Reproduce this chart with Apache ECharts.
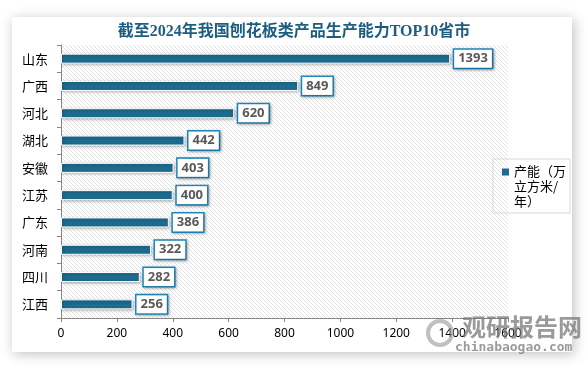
<!DOCTYPE html>
<html><head><meta charset="utf-8">
<script src="https://cdn.jsdelivr.net/npm/echarts@6/dist/echarts.min.js"></script>
<style>html,body{margin:0;padding:0;background:#fff;}#c{width:588px;height:367px;}</style>
</head><body><div id="c"></div>
<script>
const categories = ['山东','广西','河北','湖北','安徽','江苏','广东','河南','四川','江西'];
const capacity = [1393, 849, 620, 442, 403, 400, 386, 322, 282, 256];
const seriesName = '产能（万立方米/年）';
const titleText = '截至2024年我国刨花板类产品生产能力TOP10省市';

// hatch pattern
const S = 4;
const pc = document.createElement('canvas');
pc.width = S; pc.height = S;
const pctx = pc.getContext('2d');
pctx.fillStyle = '#ffffff'; pctx.fillRect(0,0,S,S);
pctx.strokeStyle = '#dedede'; pctx.lineWidth = 0.9;
pctx.beginPath();
pctx.moveTo(-1,-1); pctx.lineTo(S+1,S+1);
pctx.moveTo(-1-S,-1); pctx.lineTo(1,S+1);
pctx.moveTo(S-1,-1); pctx.lineTo(2*S+1,S+1);
pctx.stroke();

const chart = echarts.init(document.getElementById('c'), null, {renderer:'canvas'});
chart.setOption({
  animation: false,
  backgroundColor: '#ffffff',
  graphic: [
    {type:'rect', z:-10, shape:{x:12,y:17,width:560,height:335},
     style:{fill:'#fff', shadowBlur:12, shadowColor:'rgba(0,0,0,0.25)', shadowOffsetX:2, shadowOffsetY:2}},
    {type:'text', z:100, left:462, top:315,
     style:{text:'观研报告网', font:'bold 24px "Noto Sans CJK SC"', fill:'rgba(120,120,120,0.75)'}},
    {type:'text', z:100, left:455, top:341,
     style:{text:'chinabaogao.com', font:'bold 13px "DejaVu Sans Mono"', fill:'rgba(120,120,120,0.75)'}},
    {type:'circle', z:100, shape:{cx:440,cy:333,r:12},
     style:{fill:'none', stroke:'rgba(150,150,150,0.6)', lineWidth:4}}
  ],
  title: {
    text: titleText, left: 'center', top: 19,
    textStyle: {fontFamily:'"Liberation Serif","Noto Sans CJK SC"', fontWeight:'bold', fontSize:16, color:'#1d5e80'}
  },
  legend: {
    left: 493, top: 159, orient:'vertical',
    padding: [5, 4, 4, 9],
    borderColor: '#d9d9d9', borderWidth: 1,
    itemWidth: 7, itemHeight: 36, itemGap: 5,
    icon: 'path://M0,0h7v7h-7z M0,36h0.001v0.001h-0.001z',
    itemStyle: {borderWidth: 0, shadowBlur: 0},
    formatter: () => '产能（万\n立方米/\n年）',
    textStyle: {fontSize: 13, lineHeight: 15, color:'#000', fontFamily:'"Noto Sans CJK SC"'}
  },
  grid: {
    left: 61, right: 80, top: 45, bottom: 49,
    show: true, borderWidth: 0,
    backgroundColor: {image: pc, repeat: 'repeat'}
  },
  xAxis: {
    type: 'value', min: 0, max: 1600, interval: 200,
    axisLine: {show:true, lineStyle:{color:'#868686'}},
    axisTick: {show:true, length:4, lineStyle:{color:'#868686'}},
    splitLine: {show:false},
    axisLabel: {color:'#000', fontSize:12, margin:10, fontFamily:'"Noto Sans","Noto Sans CJK SC"',
      formatter: v => String(v)}
  },
  yAxis: {
    type: 'category', data: categories, inverse: true,
    axisLine: {show:true, lineStyle:{color:'#868686'}},
    axisTick: {show:true, length:4, lineStyle:{color:'#868686'}},
    axisLabel: {color:'#000', fontSize:13, margin:13, fontFamily:'"Noto Sans CJK SC"'}
  },
  series: [{
    name: seriesName, type: 'bar', data: capacity,
    barWidth: 10,
    itemStyle: {color:'#1d6b8f', borderColor:'#fff', borderWidth:1,
      shadowBlur:3, shadowColor:'rgba(0,0,0,0.35)', shadowOffsetX:1, shadowOffsetY:1},
    label: {
      show: true, position: 'right', distance: 4,
      backgroundColor: '#fff', borderColor: '#1f88bd', borderWidth: 1.5,
      padding: [3, 4, 2, 4],
      color: '#595959', fontWeight: 'bold', fontSize: 13,
      fontFamily: '"Open Sans","Noto Sans"',
      shadowBlur: 3, shadowColor: 'rgba(0,0,0,0.3)', shadowOffsetX: 1, shadowOffsetY: 1
    }
  }]
});
</script></body></html>
